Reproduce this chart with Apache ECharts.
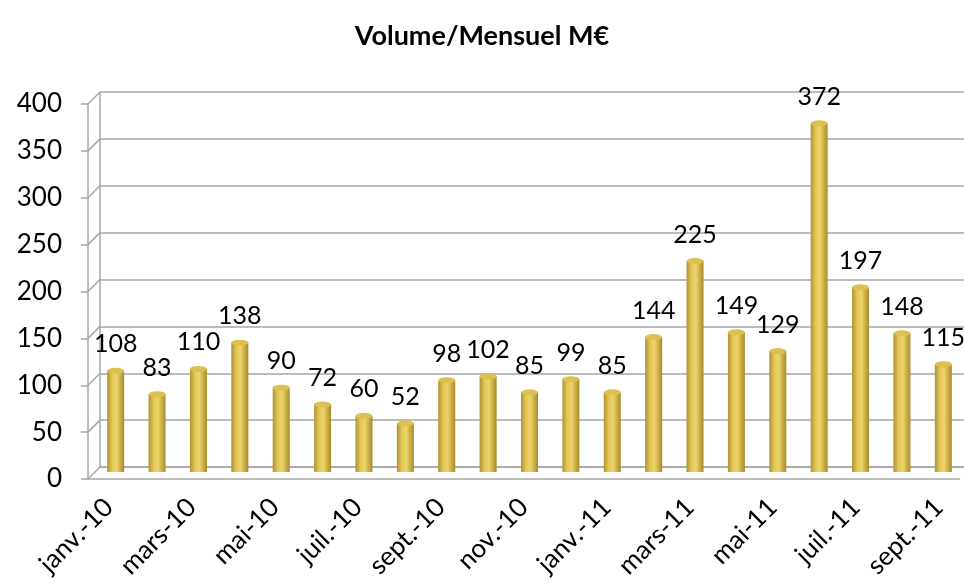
<!DOCTYPE html>
<html style="height: 100%">
<head>
<meta charset="utf-8">
</head>
<body style="height: 100%; margin: 0; background: #fff">
<div id="container" style="width: 964px; height: 586px"></div>
<script type="text/javascript" src="https://cdn.jsdelivr.net/npm/echarts@6/dist/echarts.min.js"></script>
<script type="text/javascript">
// months, janv.-10 .. sept.-11
var months = ['janv.-10','févr.-10','mars-10','avr.-10','mai-10','juin-10','juil.-10','août-10','sept.-10','oct.-10','nov.-10','déc.-10',
              'janv.-11','févr.-11','mars-11','avr.-11','mai-11','juin-11','juil.-11','août-11','sept.-11'];
var volumes = [108, 83, 110, 138, 90, 72, 60, 52, 98, 102, 85, 99, 85, 144, 225, 149, 129, 372, 197, 148, 115];
var yTicks = [0, 50, 100, 150, 200, 250, 300, 350, 400];

var font = 'Lato, "Open Sans", sans-serif';
var lineCol = '#a6a6a6';

var dom = document.getElementById('container');
var myChart = echarts.init(dom);

var barColor = new echarts.graphic.LinearGradient(0, 0, 1, 0, [
    {offset: 0, color: '#b09230'},
    {offset: 0.3, color: '#e2c858'},
    {offset: 0.55, color: '#ecd46a'},
    {offset: 1, color: '#a88a28'}
]);

var option = {
    backgroundColor: '#fff',
    animation: false,
    title: {
        text: 'Volume/Mensuel M€',
        left: 'center',
        top: 18,
        textStyle: {fontFamily: font, fontSize: 27, fontWeight: 'bold', color: '#000'}
    },
    grid: [
        // front: axis lines, ticks and labels
        {left: 88, right: 4.5, top: 104, bottom: 107},
        // back wall gridlines
        {left: 100, right: 0, top: 92, bottom: 119},
        // bars, sitting between front and back
        {left: 95, right: -2.5, top: 97, bottom: 114}
    ],
    xAxis: [
        {
            type: 'category', gridIndex: 0, data: months, boundaryGap: true,
            axisLine: {lineStyle: {color: lineCol, width: 1.5}},
            axisTick: {interval: 1, length: 7, lineStyle: {color: lineCol, width: 1.5}},
            axisLabel: {interval: 1, rotate: 45, margin: 24, fontFamily: font, fontSize: 26, color: '#000'},
            splitLine: {show: false}
        },
        {
            type: 'category', gridIndex: 1, data: months,
            axisLine: {show: true, lineStyle: {color: lineCol, width: 1.5}},
            axisTick: {show: false}, axisLabel: {show: false}, splitLine: {show: false}
        },
        {
            type: 'category', gridIndex: 2, data: months,
            axisLine: {show: false}, axisTick: {show: false}, axisLabel: {show: false}
        }
    ],
    yAxis: [
        {
            type: 'value', gridIndex: 0, min: 0, max: 400, interval: 50,
            axisLine: {show: true, lineStyle: {color: lineCol, width: 1.5}},
            axisTick: {show: true, length: 7, lineStyle: {color: lineCol, width: 1.5}},
            axisLabel: {fontFamily: font, fontSize: 26, color: '#000', margin: 26},
            splitLine: {show: false}
        },
        {
            type: 'value', gridIndex: 1, min: 0, max: 400, interval: 50,
            axisLine: {show: false}, axisTick: {show: false}, axisLabel: {show: false},
            splitLine: {show: true, lineStyle: {color: lineCol, width: 1.5}}
        },
        {
            type: 'value', gridIndex: 2, min: 0, max: 400, interval: 50,
            axisLine: {show: false}, axisTick: {show: false}, axisLabel: {show: false},
            splitLine: {show: false}
        }
    ],
    series: [
        {
            name: 'Volume',
            type: 'bar',
            xAxisIndex: 2,
            yAxisIndex: 2,
            barWidth: 17,
            data: volumes,
            itemStyle: {color: barColor},
            label: {
                show: true,
                position: 'top',
                distance: 14,
                fontFamily: font,
                fontSize: 25,
                color: '#000'
            },
            z: 2
        },
        {
            // cylinder caps
            name: 'cap',
            type: 'pictorialBar',
            xAxisIndex: 2,
            yAxisIndex: 2,
            symbol: 'circle',
            symbolSize: [17, 6],
            symbolPosition: 'end',
            symbolOffset: [0, '-50%'],
            data: volumes,
            itemStyle: {color: '#dcc050'},
            silent: true,
            z: 3
        }
    ]
};
myChart.setOption(option);

// 3D wall: diagonals joining the front axis to the back wall
var diag = [];
yTicks.forEach(function (v) {
    var f = myChart.convertToPixel({xAxisIndex: 0, yAxisIndex: 0}, [0, v]);
    var b = myChart.convertToPixel({xAxisIndex: 1, yAxisIndex: 1}, [0, v]);
    diag.push({
        type: 'line', silent: true,
        shape: {x1: 88, y1: f[1], x2: 100, y2: b[1]},
        style: {stroke: lineCol, lineWidth: 1.5}
    });
});
// back corner vertical edge
var top0 = myChart.convertToPixel({xAxisIndex: 1, yAxisIndex: 1}, [0, 400]);
var bot0 = myChart.convertToPixel({xAxisIndex: 1, yAxisIndex: 1}, [0, 0]);
diag.push({
    type: 'line', silent: true,
    shape: {x1: 100, y1: top0[1], x2: 100, y2: bot0[1]},
    style: {stroke: lineCol, lineWidth: 1.5}
});
myChart.setOption({graphic: diag});
</script>
</body>
</html>
